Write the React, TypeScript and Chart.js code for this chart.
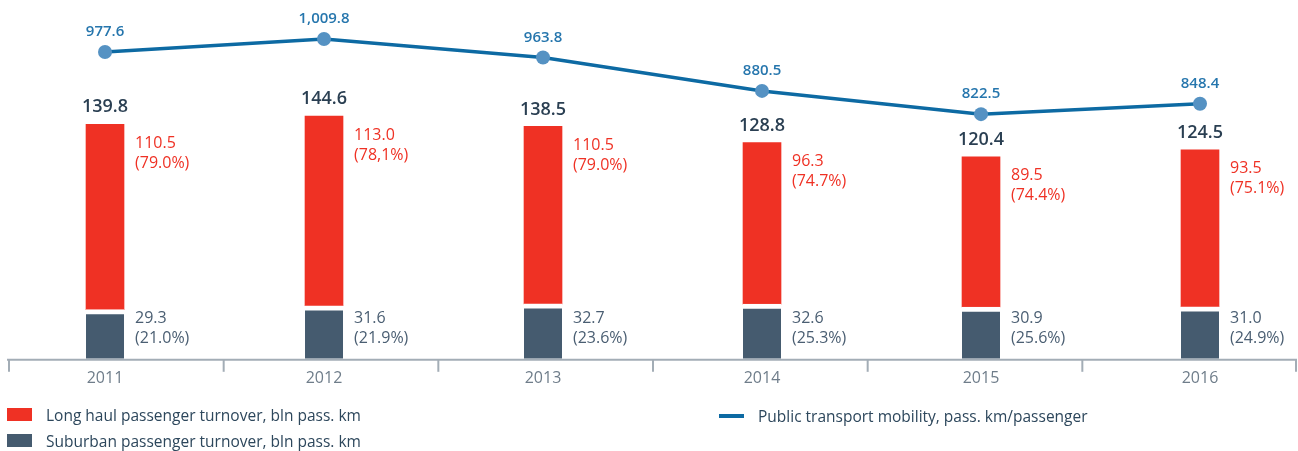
import React, { useEffect, useRef } from "react";
import { Chart, registerables } from "chart.js";

Chart.register(...registerables);

const years = [2011, 2012, 2013, 2014, 2015, 2016];
const suburban = [29.3, 31.6, 32.7, 32.6, 30.9, 31.0];
// long haul bar heights as drawn in the picture
const longHaul = [110.5, 113.0, 105.8, 96.3, 89.5, 93.5];
const mobility = [977.6, 1009.8, 963.8, 880.5, 822.5, 848.4];

const totalLabels = ["139.8", "144.6", "138.5", "128.8", "120.4", "124.5"];
const longHaulLabels = ["110.5", "113.0", "110.5", "96.3", "89.5", "93.5"];
const longHaulShare = ["(79.0%)", "(78,1%)", "(79.0%)", "(74.7%)", "(74.4%)", "(75.1%)"];
const suburbanLabels = ["29.3", "31.6", "32.7", "32.6", "30.9", "31.0"];
const suburbanShare = ["(21.0%)", "(21.9%)", "(23.6%)", "(25.3%)", "(25.6%)", "(24.9%)"];
const mobilityLabels = ["977.6", "1,009.8", "963.8", "880.5", "822.5", "848.4"];

const legendLong = "Long haul passenger turnover, bln pass. km";
const legendSub = "Suburban passenger turnover, bln pass. km";
const legendLine = "Public transport mobility, pass. km/passenger";

const FONT = "'Open Sans', sans-serif";
const RED = "#ef3124";
const DARK = "#455b6f";
const BLUE = "#0d6aa3";
const POINT = "#5592c3";
const LINE_LABEL = "#2676ad";
const TOTAL_COLOR = "#2a3f52";
const DARK_LABEL = "#4a5e72";
const AXIS = "#a3adb6";
const YEAR = "#6f7d8a";
const LEGEND_TEXT = "#2d475c";

const axisPlugin = {
  id: "axisDecor",
  afterDatasetsDraw(chart: any) {
    const { ctx, chartArea } = chart;
    const y = chartArea.bottom + 1;
    ctx.save();
    ctx.strokeStyle = AXIS;
    ctx.lineWidth = 2;
    ctx.beginPath();
    ctx.moveTo(chartArea.left - 2, y);
    ctx.lineTo(chartArea.right, y);
    ctx.stroke();
    const w = (chartArea.right - chartArea.left) / years.length;
    for (let i = 0; i <= years.length; i++) {
      const x = Math.min(chartArea.left + i * w, chartArea.right - 1);
      ctx.beginPath();
      ctx.moveTo(x, y);
      ctx.lineTo(x, y + 12);
      ctx.stroke();
    }
    ctx.restore();
  },
};

const labelPlugin = {
  id: "valueLabels",
  afterDatasetsDraw(chart: any) {
    const ctx = chart.ctx;
    const dark = chart.getDatasetMeta(0).data;
    const red = chart.getDatasetMeta(1).data;
    const pts = chart.getDatasetMeta(2).data;
    ctx.save();
    ctx.textBaseline = "middle";
    years.forEach((_, i) => {
      const r: any = red[i];
      const d: any = dark[i];
      const p: any = pts[i];
      ctx.textAlign = "center";
      ctx.fillStyle = TOTAL_COLOR;
      ctx.font = `600 18px ${FONT}`;
      ctx.fillText(totalLabels[i], r.x, r.y - 17);
      ctx.fillStyle = LINE_LABEL;
      ctx.font = `600 15px ${FONT}`;
      ctx.fillText(mobilityLabels[i], p.x, p.y - 20);
      ctx.textAlign = "left";
      const lx = r.x + r.width / 2 + 11;
      ctx.font = `500 16px ${FONT}`;
      ctx.fillStyle = RED;
      ctx.fillText(longHaulLabels[i], lx, r.y + 19);
      ctx.fillText(longHaulShare[i], lx, r.y + 39);
      ctx.fillStyle = DARK_LABEL;
      ctx.fillText(suburbanLabels[i], lx, d.base - 40);
      ctx.fillText(suburbanShare[i], lx, d.base - 20);
    });
    ctx.restore();
  },
};

export default function App() {
  const ref = useRef<HTMLCanvasElement>(null);

  useEffect(() => {
    const chart = new Chart(ref.current as HTMLCanvasElement, {
      type: "bar",
      data: {
        labels: years,
        datasets: [
          {
            type: "bar",
            label: legendSub,
            data: suburban,
            backgroundColor: DARK,
            borderColor: "#ffffff",
            borderWidth: { top: 5, left: 0, right: 0, bottom: 0 },
            barThickness: 38,
            stack: "s",
            yAxisID: "y",
            order: 1,
          },
          {
            type: "bar",
            label: legendLong,
            data: longHaul,
            backgroundColor: RED,
            borderWidth: 0,
            barThickness: 38,
            stack: "s",
            yAxisID: "y",
            order: 1,
          },
          {
            type: "line",
            label: legendLine,
            data: mobility,
            borderColor: BLUE,
            borderWidth: 3.5,
            pointRadius: 7,
            pointBackgroundColor: POINT,
            pointBorderWidth: 0,
            tension: 0,
            yAxisID: "y2",
            order: 0,
          },
        ],
      } as any,
      options: {
        animation: false,
        responsive: false,
        layout: { autoPadding: false, padding: { left: 9, right: 1, top: 10, bottom: 53 } },
        plugins: { legend: { display: false }, tooltip: { enabled: false } },
        scales: {
          x: {
            type: "linear",
            offset: false,
            stacked: true,
            min: 2010.5616,
            max: 2016.4429,
            grid: { display: false, drawTicks: false },
            border: { display: false },
            afterFit: (scale: any) => {
              scale.paddingLeft = 0;
              scale.paddingRight = 0;
            },
            ticks: {
              stepSize: 1,
              includeBounds: false,
              padding: 10,
              color: YEAR,
              font: { family: FONT, size: 16 },
              callback: (v: any) => String(v),
            },
          },
          y: { display: false, stacked: true, min: 0, max: 207.9 },
          y2: { display: false, min: 212.3, max: 1082.3 },
        },
      } as any,
      plugins: [axisPlugin, labelPlugin],
    });
    return () => chart.destroy();
  }, []);

  const legendText: React.CSSProperties = {
    position: "absolute",
    fontFamily: FONT,
    fontSize: 15.5,
    lineHeight: "20px",
    color: LEGEND_TEXT,
    whiteSpace: "nowrap",
  };

  return (
    <div style={{ position: "fixed", left: 0, top: 0, width: 1298, height: 451, background: "#fff", overflow: "hidden" }}>
      <canvas ref={ref} width={1298} height={451} style={{ position: "absolute", left: 0, top: 0, width: 1298, height: 451 }} />
      <div style={{ position: "absolute", left: 7, top: 408, width: 25, height: 13, background: RED }} />
      <div style={{ ...legendText, left: 46, top: 405 }}>{legendLong}</div>
      <div style={{ position: "absolute", left: 7, top: 434, width: 25, height: 13, background: DARK }} />
      <div style={{ ...legendText, left: 46, top: 431 }}>{legendSub}</div>
      <div style={{ position: "absolute", left: 719, top: 414, width: 25, height: 4, background: BLUE }} />
      <div style={{ ...legendText, left: 758, top: 406 }}>{legendLine}</div>
    </div>
  );
}
